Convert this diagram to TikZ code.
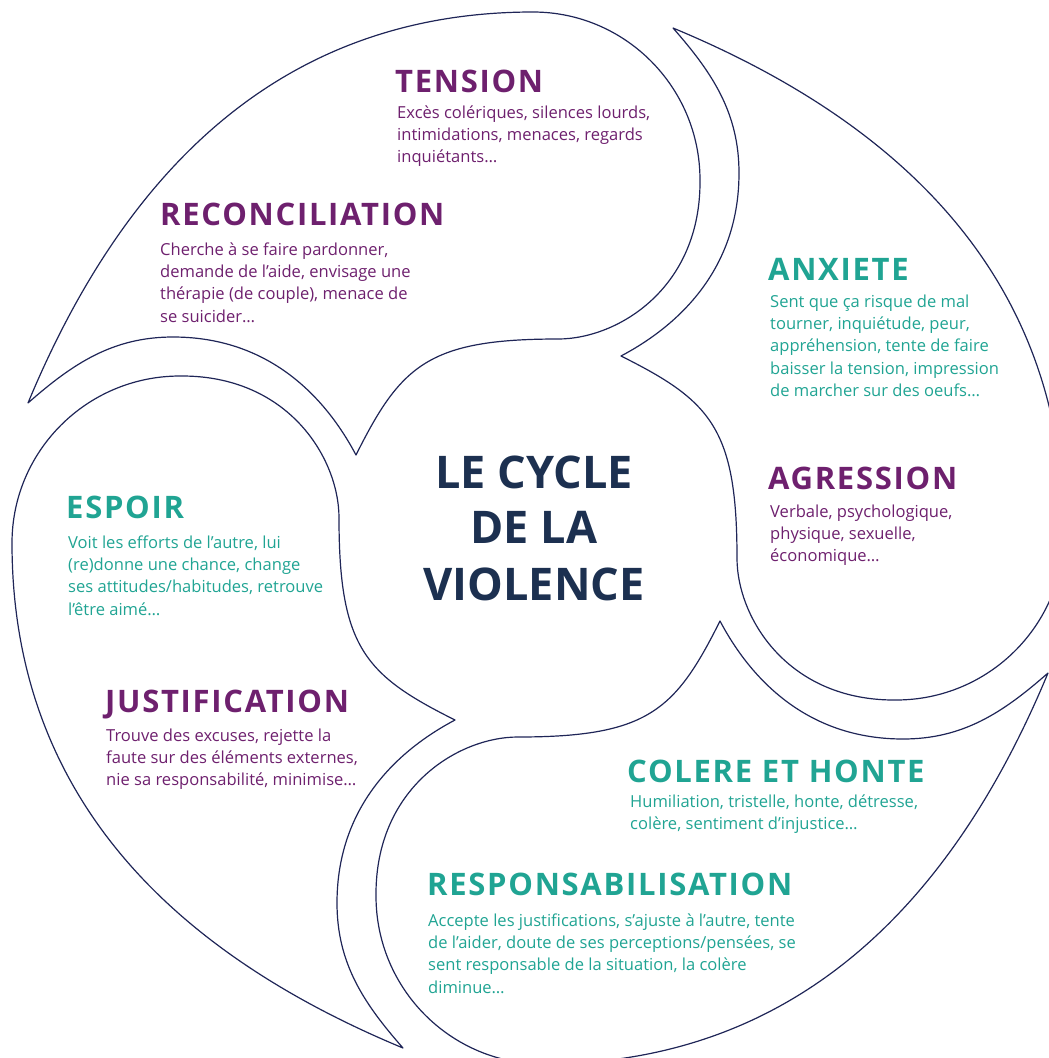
\documentclass[tikz,border=0pt]{standalone}
\usepackage{fontspec}
\setmainfont{Open Sans}
\definecolor{plum}{HTML}{6E206E}
\definecolor{teal2}{HTML}{20A493}
\definecolor{navy}{HTML}{1C3050}
\definecolor{edgec}{HTML}{1F2557}
\newlength\reflen
\newcommand\elp{…}
\newcommand\bodylines[5]{%
  \foreach \t [count=\i] in {#5} {
    \node[body, text=#2] (#1-\i) at ({#3},{#4+22.4*(\i-1)}) {\t};
  }%
}
\begin{document}
\settowidth\reflen{\fontsize{10}{12}\selectfont Excès colériques, silences lourds,}%
\pgfmathsetmacro\bsz{10*253/\reflen}%
\settowidth\reflen{\fontsize{31}{31}\selectfont\bfseries TENSION}%
\pgfmathsetmacro\hls{(148-\reflen)/(6*31)*100}%
\edef\headfeat{\noexpand\addfontfeature{LetterSpace=\hls}}%
\begin{tikzpicture}[x=1pt,y=-1pt,line join=round,
  swirl/.style={draw=edgec, line width=1.2pt},
  body/.style={inner sep=0pt, anchor=base west, font=\fontsize{\bsz}{\bsz}\selectfont},
  head/.style={inner sep=0pt, anchor=base west, font=\fontsize{31}{31}\selectfont\bfseries\headfeat},
  title/.style={inner sep=0pt, anchor=base, text=navy, font=\fontsize{45}{45}\selectfont\bfseries}]
\useasboundingbox (0,0) rectangle (1049,1058);
\begin{scope}
\clip (0,0) rectangle (1049,1058);
\foreach \r in {0,-90,-180,-270} {
  \draw[swirl, shift={(538,538)}, rotate=\r]
    (-510,-135) .. controls (-418,-356.5) and (-265,-526) .. (-5,-526)
    .. controls (87,-526) and (162,-451) .. (162,-358)
    .. controls (163,-250) and (80,-199) .. (20,-199)
    .. controls (-110,-199) and (-137.3,-172.4) .. (-182,-83)
    .. controls (-210,-136) and (-265,-201) .. (-365,-201)
    .. controls (-425,-201) and (-465,-174.6) .. (-510,-135) -- cycle;
}
\end{scope}
% titles
\node[title] (t1) at (534,488) {LE CYCLE};
\node[title] (t2) at (534,543) {DE LA};
\node[title] (t3) at (534,600) {VIOLENCE};
% headers
\node[head, text=plum] (tension) at (395,92) {TENSION};
\node[head, text=plum] (reconciliation) at (160,225) {RECONCILIATION};
\node[head, text=teal2] (anxiete) at (768,280) {ANXIETE};
\node[head, text=plum] (agression) at (768,489) {AGRESSION};
\node[head, text=teal2] (espoir) at (66,518) {ESPOIR};
\node[head, text=plum] (justification) at (105,712) {JUSTIFICATION};
\node[head, text=teal2] (colere) at (627,782) {COLERE ET HONTE};
\node[head, text=teal2] (respons) at (427,895) {RESPONSABILISATION};
% bodies
\bodylines{tb}{plum}{397}{118}{{Excès colériques, silences lourds,},{intimidations, menaces, regards},{inquiétants\elp}}
\bodylines{rb}{plum}{160}{255}{{Cherche à se faire pardonner,},{demande de l’aide, envisage une},{thérapie (de couple), menace de},{se suicider\elp}}
\bodylines{ab}{teal2}{770}{307}{{Sent que ça risque de mal},{tourner, inquiétude, peur,},{appréhension, tente de faire},{baisser la tension, impression},{de marcher sur des oeufs\elp}}
\bodylines{gb}{plum}{770}{517}{{Verbale, psychologique,},{physique, sexuelle,},{économique\elp}}
\bodylines{eb}{teal2}{68}{548}{{Voit les efforts de l’autre, lui},{(re)donne une chance, change},{ses attitudes/habitudes, retrouve},{l’être aimé\elp}}
\bodylines{jb}{plum}{106}{741}{{Trouve des excuses, rejette la},{faute sur des éléments externes,},{nie sa responsabilité, minimise\elp}}
\bodylines{cb}{teal2}{630}{807}{{Humiliation, tristelle, honte, détresse,},{colère, sentiment d’injustice\elp}}
\bodylines{sb}{teal2}{428}{926}{{Accepte les justifications, s’ajuste à l’autre, tente},{de l’aider, doute de ses perceptions/pensées, se},{sent responsable de la situation, la colère},{diminue\elp}}
\end{tikzpicture}
\end{document}
